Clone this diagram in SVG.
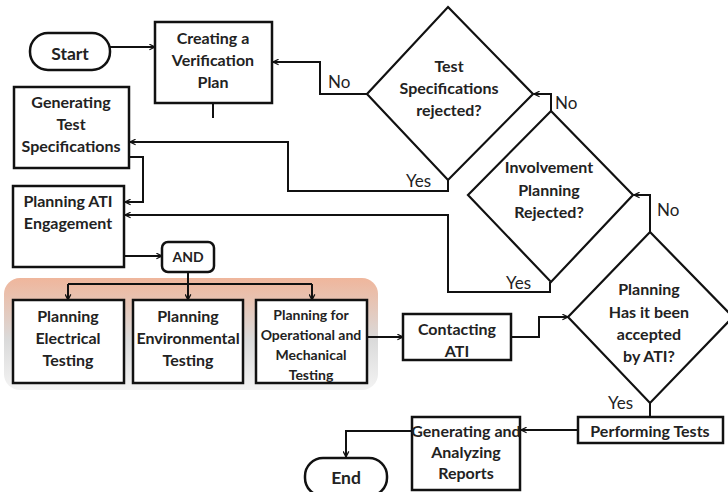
<svg xmlns="http://www.w3.org/2000/svg" width="728" height="492" viewBox="0 0 728 492">
  <defs>
    <linearGradient id="panelFill" x1="0" y1="0" x2="0" y2="1">
      <stop offset="0" stop-color="#EFB69C"/>
      <stop offset="0.55" stop-color="#DADADA"/>
      <stop offset="1" stop-color="#F3F3F3"/>
    </linearGradient>
    <marker id="arrow" viewBox="0 0 10 10" refX="9" refY="5" markerWidth="7" markerHeight="7" markerUnits="userSpaceOnUse" orient="auto">
      <path d="M1,1 L9,5 L1,9" fill="none" stroke="#111" stroke-width="1.8"/>
    </marker>
  </defs>
  <style>
    .box { fill: #fff; stroke: #111; stroke-width: 2.5; }
    .dia { fill: #fff; stroke: #111; stroke-width: 2.2; }
    .t { font-family: Lato, "Liberation Sans", sans-serif; font-weight: bold; font-size: 16px; fill: #222; text-anchor: middle; }
    .sm { font-size: 14px; }
    .lbl { font-family: Lato, "Liberation Sans", sans-serif; font-size: 17px; fill: #222; }
    .wire { fill: none; stroke: #111; stroke-width: 2; }
    .arr { marker-end: url(#arrow); }
  </style>
  <rect width="728" height="492" fill="#fff"/>

  <!-- shaded container for the three planning tasks -->
  <rect x="4" y="278" width="374" height="112" rx="16" fill="url(#panelFill)"/>

  <g id="connectors">
    <path class="wire arr" d="M110,47 H155"/>
    <path class="wire" d="M213,103 V118"/>
    <path class="wire arr" d="M367,94 H320 V62 H273"/>
    <path class="wire arr" d="M551,111 V94 H534"/>
    <path class="wire arr" d="M650,232 V195 H634"/>
    <path class="wire arr" d="M448,180 V191 H288 V142 H130"/>
    <path class="wire arr" d="M129,157 H143 V202 H125"/>
    <path class="wire arr" d="M550,282 V292 H448 V215 H125"/>
    <path class="wire arr" d="M124,256 H162"/>
    <path class="wire" d="M188,272 V284 M68,284 H312"/>
    <path class="wire arr" d="M68,284 V300"/>
    <path class="wire arr" d="M188,284 V300"/>
    <path class="wire arr" d="M312,284 V300"/>
    <path class="wire arr" d="M367,337 H403"/>
    <path class="wire arr" d="M511,337 H539 V317 H568"/>
    <path class="wire" d="M650,403 V417"/>
    <path class="wire arr" d="M578,430 H521"/>
    <path class="wire arr" d="M412,431 H346 V457"/>
    <text class="lbl" x="328" y="88">No</text>
    <text class="lbl" x="555" y="109">No</text>
    <text class="lbl" x="657" y="216">No</text>
    <text class="lbl" x="406" y="187">Yes</text>
    <text class="lbl" x="506" y="289">Yes</text>
    <text class="lbl" x="608" y="409">Yes</text>
  </g>

  <g id="start">
    <rect class="box" x="30" y="33" width="80" height="37" rx="18"/>
    <text class="t" x="70" y="60" style="font-size:17.5px">Start</text>
  </g>

  <g id="create-plan">
    <rect class="box" x="155" y="22" width="117" height="81"/>
    <text class="t" x="213" y="44">Creating a</text>
    <text class="t" x="213" y="66">Verification</text>
    <text class="t" x="213" y="88">Plan</text>
  </g>

  <g id="gen-specs">
    <rect class="box" x="14" y="87" width="115" height="81"/>
    <text class="t" x="71" y="108">Generating</text>
    <text class="t" x="71" y="130">Test</text>
    <text class="t" x="71" y="152">Specifications</text>
  </g>

  <g id="plan-ati">
    <rect class="box" x="13" y="186" width="111" height="81"/>
    <text class="t" x="68" y="207">Planning ATI</text>
    <text class="t" x="68" y="229">Engagement</text>
  </g>

  <g id="and">
    <rect class="box" x="162" y="242" width="52" height="30" rx="6"/>
    <text class="t sm" x="188" y="262">AND</text>
  </g>

  <g id="plan-electrical">
    <rect class="box" x="13" y="300" width="111" height="83"/>
    <text class="t" x="68" y="322">Planning</text>
    <text class="t" x="68" y="344">Electrical</text>
    <text class="t" x="68" y="366">Testing</text>
  </g>

  <g id="plan-environmental">
    <rect class="box" x="133" y="300" width="110" height="83"/>
    <text class="t" x="188" y="322">Planning</text>
    <text class="t" x="188" y="344">Environmental</text>
    <text class="t" x="188" y="366">Testing</text>
  </g>

  <g id="plan-operational">
    <rect class="box" x="256" y="300" width="111" height="83"/>
    <text class="t sm" x="311" y="320">Planning for</text>
    <text class="t sm" x="311" y="340">Operational and</text>
    <text class="t sm" x="311" y="360">Mechanical</text>
    <text class="t sm" x="311" y="380">Testing</text>
  </g>

  <g id="contact-ati">
    <rect class="box" x="403" y="314" width="108" height="46"/>
    <text class="t" x="457" y="335">Contacting</text>
    <text class="t" x="457" y="357">ATI</text>
  </g>

  <g id="specs-rejected">
    <polygon class="dia" points="448,7 533,94 448,180 367,94"/>
    <text class="t" x="449" y="72">Test</text>
    <text class="t" x="449" y="94">Specifications</text>
    <text class="t" x="449" y="116">rejected?</text>
  </g>

  <g id="involvement-rejected">
    <polygon class="dia" points="551,111 633,195 551,282 468,195"/>
    <text class="t" x="549" y="173">Involvement</text>
    <text class="t" x="549" y="196">Planning</text>
    <text class="t" x="549" y="218">Rejected?</text>
  </g>

  <g id="accepted">
    <polygon class="dia" points="650,232 733,317 650,403 568,317"/>
    <text class="t" x="649" y="295">Planning</text>
    <text class="t" x="649" y="318">Has it been</text>
    <text class="t" x="649" y="340">accepted</text>
    <text class="t" x="649" y="362">by ATI?</text>
  </g>

  <g id="perform-tests">
    <rect class="box" x="578" y="417" width="145" height="26"/>
    <text class="t" x="650" y="437">Performing Tests</text>
  </g>

  <g id="gen-reports">
    <rect class="box" x="412" y="417" width="108" height="73"/>
    <text class="t" x="466" y="437">Generating and</text>
    <text class="t" x="466" y="458">Analyzing</text>
    <text class="t" x="466" y="479">Reports</text>
  </g>

  <g id="end">
    <rect class="box" x="305" y="458" width="82" height="38" rx="18"/>
    <text class="t" x="346" y="484" style="font-size:17.5px">End</text>
  </g>
</svg>
